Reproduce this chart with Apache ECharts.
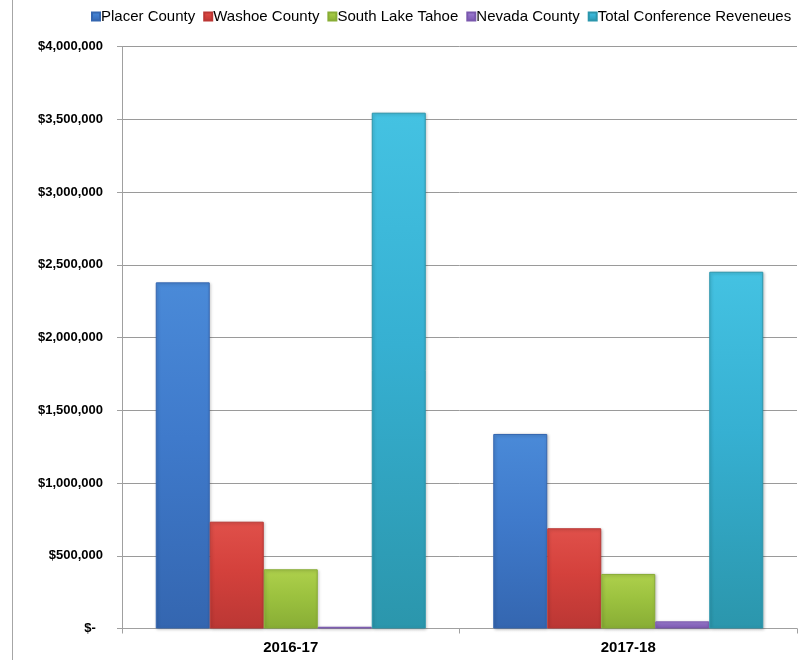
<!DOCTYPE html>
<html>
<head>
<meta charset="utf-8">
<script src="https://cdn.jsdelivr.net/npm/echarts@6/dist/echarts.min.js"></script>
<style>
  html, body { margin: 0; padding: 0; background: #fff; }
  #chart { width: 809px; height: 660px; }
</style>
</head>
<body>
<div id="chart"></div>
<script>
// Fiscal years on the category axis
const years = ['2016-17', '2017-18'];

// Conference revenues by source (USD)
const placerCounty = [2379000, 1337000];
const washoeCounty = [734000, 689000];
const southLakeTahoe = [407000, 375000];
const nevadaCounty = [12000, 49000];
const totalConference = [3545000, 2452000];

// Value axis bounds
const yMin = 0;
const yMax = 4000000;
const yStep = 500000;

const FONT = '"Liberation Sans", Arial, sans-serif';

const seriesDefs = [
  { name: 'Placer County', data: placerCounty, top: '#4a8ad8', mid: '#3f7acb', bottom: '#3466b0' },
  { name: 'Washoe County', data: washoeCounty, top: '#e0504a', mid: '#d4413c', bottom: '#bb3734' },
  { name: 'South Lake Tahoe', data: southLakeTahoe, top: '#aed04c', mid: '#9cc23f', bottom: '#88ad35' },
  { name: 'Nevada County', data: nevadaCounty, top: '#a384d6', mid: '#8e6cc4', bottom: '#7a58ae' },
  { name: 'Total Conference Reveneues', data: totalConference, top: '#44c2e2', mid: '#36b0d2', bottom: '#2b96ac' }
];

function barFill(d) {
  return new echarts.graphic.LinearGradient(0, 0, 0, 1, [
    { offset: 0, color: d.top },
    { offset: 0.45, color: d.mid },
    { offset: 1, color: d.bottom }
  ]);
}

function money(v) {
  if (v === 0) return '$-  ';
  return '$' + v.toLocaleString('en-US');
}

const chart = echarts.init(document.getElementById('chart'), null, { renderer: 'canvas' });

chart.setOption({
  animation: false,
  backgroundColor: '#ffffff',
  textStyle: { fontFamily: FONT },
  graphic: [
    {
      type: 'line',
      shape: { x1: 12.5, y1: 0, x2: 12.5, y2: 660 },
      style: { stroke: '#a6a6a6', lineWidth: 1 }
    }
  ],
  legend: {
    top: 4,
    left: 86,
    itemWidth: 8,
    itemHeight: 8,
    itemGap: 8,
    icon: 'rect',
    textStyle: {
      fontFamily: FONT,
      fontSize: 15,
      color: '#000',
      padding: [0, 0, 0, -4]
    },
    data: seriesDefs.map(d => d.name)
  },
  grid: { left: 122, right: 12, top: 46.5, bottom: 31.5 },
  xAxis: {
    type: 'category',
    data: years,
    axisLine: { lineStyle: { color: '#a0a0a0', width: 1 } },
    axisTick: { show: true, length: 5, lineStyle: { color: '#a0a0a0' } },
    axisLabel: {
      margin: 12,
      color: '#000',
      fontSize: 15,
      fontWeight: 'bold',
      fontFamily: FONT
    }
  },
  yAxis: {
    type: 'value',
    min: yMin,
    max: yMax,
    interval: yStep,
    axisLine: { show: true, lineStyle: { color: '#a0a0a0', width: 1 } },
    axisTick: { show: true, length: 5, lineStyle: { color: '#a0a0a0' } },
    splitLine: { lineStyle: { color: '#9a9a9a', width: 1 } },
    axisLabel: {
      margin: 19,
      color: '#000',
      fontSize: 13,
      fontWeight: 'bold',
      fontFamily: FONT,
      formatter: money
    }
  },
  series: seriesDefs.map(d => ({
    name: d.name,
    type: 'bar',
    data: d.data,
    barGap: '0%',
    barCategoryGap: '20%',
    itemStyle: {
      color: barFill(d),
      borderColor: d.bottom,
      borderWidth: 1,
      shadowColor: 'rgba(0,0,0,0.25)',
      shadowBlur: 3,
      shadowOffsetX: 1,
      shadowOffsetY: 1
    }
  }))
});
</script>
</body>
</html>
